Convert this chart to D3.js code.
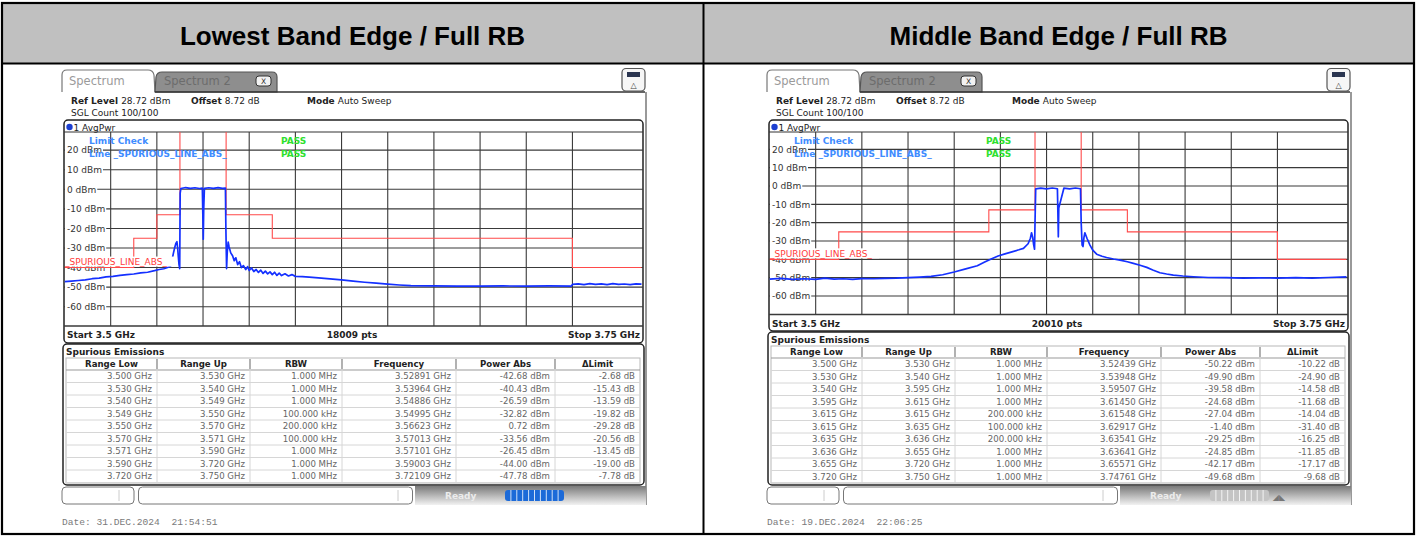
<!DOCTYPE html>
<html><head><meta charset="utf-8">
<script src="https://cdn.jsdelivr.net/npm/d3@7"></script>
<style>body{margin:0;background:#fff}svg{display:block}</style>
</head><body>
<svg id="c" width="1416" height="536"></svg>
<script>
// ---------------- DATA ----------------
const panelTitles = ["Lowest Band Edge / Full RB", "Middle Band Edge / Full RB"];
const startGHz = 3.5, stopGHz = 3.75;
const yTickValues = [20, 10, 0, -10, -20, -30, -40, -50, -60];
const yTickLabels = ["20 dBm", "10 dBm", "0 dBm", "-10 dBm", "-20 dBm", "-30 dBm", "-40 dBm", "-50 dBm", "-60 dBm"];
const sweepPoints = ["18009 pts", "20010 pts"];
const dateTexts = ["Date: 31.DEC.2024  21:54:51", "Date: 19.DEC.2024  22:06:25"];
const tableColumns = ["Range Low", "Range Up", "RBW", "Frequency", "Power Abs", "\u0394Limit"];

// limit line break frequencies (GHz) and levels (dBm)
const limitLowF = [3.500, 3.530, 3.540, 3.550, 3.570, 3.590, 3.720, 3.750];
const limitLowV = [-40, -25, -13, 30, -13, -25, -40];
const limitMidF = [3.500, 3.530, 3.595, 3.615, 3.635, 3.655, 3.720, 3.750];
const limitMidV = [-40, -25, -13, 30, -13, -25, -40];

// trace, lowest band edge (GHz, dBm)
const traceLowF = [3.500,3.503,3.506,3.509,3.512,3.515,3.518,3.521,3.524,3.527,3.530,3.533,3.536,3.539,3.541,3.543,3.545,3.546,3.5466,3.5472,3.5478,3.5483,3.5487,3.5490,3.5493,3.5496,3.5499,3.5501,3.5504,3.5525,3.5545,3.5565,3.5585,3.5597,3.5599,3.5601,3.5603,3.5606,3.5625,3.5645,3.5665,3.5685,3.5697,3.5699,3.5702,3.5705,3.5709,3.5713,3.5720,3.5728,3.5735,3.5742,3.5750,3.5758,3.5766,3.5775,3.5785,3.5793,3.5800,3.5810,3.5820,3.5830,3.5840,3.5850,3.5860,3.5870,3.5880,3.5890,3.5900,3.5910,3.5920,3.5930,3.5940,3.5955,3.5970,3.5985,3.600,3.603,3.606,3.610,3.615,3.620,3.625,3.630,3.635,3.640,3.645,3.650,3.660,3.670,3.680,3.690,3.700,3.710,3.7195,3.7200,3.7225,3.7250,3.7275,3.7300,3.7325,3.7350,3.7375,3.7400,3.7425,3.7450,3.7475,3.7500];
const traceLowV = [-47.2,-46.9,-46.6,-46.3,-45.7,-45.4,-44.8,-44.5,-44.0,-43.6,-43.3,-42.7,-42.4,-41.6,-41.0,-40.6,-39.8,-39.2,-36.0,-32.5,-29.5,-27.5,-26.8,-30.0,-34.5,-38.5,-40.5,-2.0,0.4,0.9,0.5,0.8,0.4,0.6,-12.0,-25.5,-10.0,0.5,0.8,0.5,0.9,0.5,0.6,-20.0,-40.5,-32.0,-27.0,-29.5,-32.5,-34.0,-36.5,-35.0,-38.5,-37.0,-40.0,-39.0,-41.0,-39.5,-41.5,-40.2,-42.0,-41.0,-42.5,-41.3,-43.0,-41.8,-43.2,-42.2,-43.6,-42.4,-44.0,-42.8,-44.1,-43.2,-44.3,-43.6,-44.5,-44.6,-44.9,-45.3,-45.8,-46.3,-46.9,-47.5,-48.0,-48.5,-48.9,-49.2,-49.4,-49.5,-49.5,-49.4,-49.5,-49.4,-49.5,-48.6,-48.3,-48.7,-48.2,-48.6,-48.3,-48.7,-48.2,-48.6,-48.4,-48.7,-48.3,-48.5];

// trace, middle band edge (GHz, dBm)
const traceMidF = [3.500,3.505,3.510,3.515,3.520,3.524,3.528,3.532,3.536,3.540,3.545,3.550,3.555,3.560,3.565,3.570,3.575,3.580,3.585,3.590,3.593,3.596,3.599,3.602,3.605,3.608,3.610,3.612,3.6130,3.6135,3.6140,3.6144,3.6148,3.6150,3.6153,3.6175,3.6200,3.6225,3.6247,3.6249,3.6251,3.6253,3.6275,3.6300,3.6325,3.6347,3.6350,3.6354,3.6358,3.6362,3.6366,3.6375,3.6388,3.6400,3.6417,3.6440,3.6460,3.6490,3.6518,3.6550,3.6576,3.6605,3.6634,3.6660,3.6691,3.6720,3.6749,3.6790,3.6836,3.6900,3.6980,3.7050,3.7120,3.7200,3.7280,3.7350,3.7420,3.7500];
const traceMidV = [-50.8,-50.4,-50.9,-50.6,-50.9,-50.3,-50.8,-50.6,-50.9,-50.5,-50.6,-50.4,-50.3,-50.0,-49.7,-49.3,-48.4,-46.9,-45.2,-43.5,-41.6,-39.8,-38.2,-37.0,-35.9,-34.8,-34.0,-31.5,-28.5,-25.5,-28.0,-32.0,-34.5,-20.0,-1.6,-1.2,-1.6,-1.1,-1.5,-14.0,-27.7,-12.0,-1.2,-1.6,-1.1,-1.5,-20.0,-32.2,-33.0,-28.0,-25.5,-28.5,-32.2,-35.0,-37.2,-38.3,-39.0,-39.8,-40.4,-41.3,-42.2,-43.2,-44.4,-45.8,-47.3,-48.0,-48.6,-49.1,-49.5,-49.9,-50.0,-50.2,-50.1,-50.2,-50.0,-50.2,-49.9,-49.6];

// spurious emission tables
const tableLowRows = [
  ["3.500 GHz", "3.530 GHz", "1.000 MHz", "3.52891 GHz", "-42.68 dBm", "-2.68 dB"],
  ["3.530 GHz", "3.540 GHz", "1.000 MHz", "3.53964 GHz", "-40.43 dBm", "-15.43 dB"],
  ["3.540 GHz", "3.549 GHz", "1.000 MHz", "3.54886 GHz", "-26.59 dBm", "-13.59 dB"],
  ["3.549 GHz", "3.550 GHz", "100.000 kHz", "3.54995 GHz", "-32.82 dBm", "-19.82 dB"],
  ["3.550 GHz", "3.570 GHz", "200.000 kHz", "3.56623 GHz", "0.72 dBm", "-29.28 dB"],
  ["3.570 GHz", "3.571 GHz", "100.000 kHz", "3.57013 GHz", "-33.56 dBm", "-20.56 dB"],
  ["3.571 GHz", "3.590 GHz", "1.000 MHz", "3.57101 GHz", "-26.45 dBm", "-13.45 dB"],
  ["3.590 GHz", "3.720 GHz", "1.000 MHz", "3.59003 GHz", "-44.00 dBm", "-19.00 dB"],
  ["3.720 GHz", "3.750 GHz", "1.000 MHz", "3.72109 GHz", "-47.78 dBm", "-7.78 dB"]
];
const tableMidRows = [
  ["3.500 GHz", "3.530 GHz", "1.000 MHz", "3.52439 GHz", "-50.22 dBm", "-10.22 dB"],
  ["3.530 GHz", "3.540 GHz", "1.000 MHz", "3.53948 GHz", "-49.90 dBm", "-24.90 dB"],
  ["3.540 GHz", "3.595 GHz", "1.000 MHz", "3.59507 GHz", "-39.58 dBm", "-14.58 dB"],
  ["3.595 GHz", "3.615 GHz", "1.000 MHz", "3.61450 GHz", "-24.68 dBm", "-11.68 dB"],
  ["3.615 GHz", "3.615 GHz", "200.000 kHz", "3.61548 GHz", "-27.04 dBm", "-14.04 dB"],
  ["3.615 GHz", "3.635 GHz", "100.000 kHz", "3.62917 GHz", "-1.40 dBm", "-31.40 dB"],
  ["3.635 GHz", "3.636 GHz", "200.000 kHz", "3.63541 GHz", "-29.25 dBm", "-16.25 dB"],
  ["3.636 GHz", "3.655 GHz", "1.000 MHz", "3.63641 GHz", "-24.85 dBm", "-11.85 dB"],
  ["3.655 GHz", "3.720 GHz", "1.000 MHz", "3.65571 GHz", "-42.17 dBm", "-17.17 dB"],
  ["3.720 GHz", "3.750 GHz", "1.000 MHz", "3.74761 GHz", "-49.68 dBm", "-9.68 dB"]
];

// ---------------- DRAWING ----------------
const svg = d3.select("#c");
const UI = "'DejaVu Sans', Verdana, sans-serif";

// outer table
svg.append("rect").attr("x", 2).attr("y", 3).attr("width", 1412).attr("height", 60).attr("fill", "#c0c0c0");
svg.append("rect").attr("x", 2).attr("y", 3).attr("width", 1412).attr("height", 531)
  .attr("fill", "none").attr("stroke", "#000").attr("stroke-width", 2.2);
svg.append("line").attr("x1", 2).attr("x2", 1414).attr("y1", 63.5).attr("y2", 63.5).attr("stroke", "#000").attr("stroke-width", 2);
svg.append("line").attr("x1", 703.5).attr("x2", 703.5).attr("y1", 3).attr("y2", 534).attr("stroke", "#000").attr("stroke-width", 2);
[352.5, 1058.5].forEach((cx, i) => {
  svg.append("text").attr("x", cx).attr("y", 45).attr("text-anchor", "middle")
    .attr("font-family", "'Liberation Sans', Arial, sans-serif").attr("font-weight", "bold")
    .attr("font-size", 26).attr("fill", "#000").text(panelTitles[i]);
});

const defs = svg.append("defs");
const gr = defs.append("linearGradient").attr("id", "stat").attr("x1", 0).attr("y1", 0).attr("x2", 0).attr("y2", 1);
gr.append("stop").attr("offset", "0%").attr("stop-color", "#7a7a7a");
gr.append("stop").attr("offset", "100%").attr("stop-color", "#f2f2f2");

const panels = [
  { ox: 60, traceF: traceLowF, traceV: traceLowV, limF: limitLowF, limV: limitLowV, rows: tableLowRows,
    pts: sweepPoints[0], date: dateTexts[0], active: true,
    gridTop: 132, gridBottom: 326, y0: 189.3, y60: 306.7, frameBottom: 343, tableTop: 344 },
  { ox: 765, traceF: traceMidF, traceV: traceMidV, limF: limitMidF, limV: limitMidV, rows: tableMidRows,
    pts: sweepPoints[1], date: dateTexts[1], active: false,
    gridTop: 132, gridBottom: 314.5, y0: 186, y60: 296, frameBottom: 331, tableTop: 332 }
];

function t(g, x, y, s, o = {}) {
  return g.append("text").attr("x", x).attr("y", y).attr("font-family", o.ff || UI)
    .attr("font-size", o.fs || 9).attr("font-weight", o.fw || "normal")
    .attr("fill", o.fill || "#222").attr("text-anchor", o.anchor || "start").text(s);
}

panels.forEach((p, pi) => {
  const g = svg.append("g");
  const ox = p.ox;
  const x = d3.scaleLinear().domain([startGHz, stopGHz]).range([ox + 4.5, ox + 581.7]);
  const y = d3.scaleLinear().domain([0, -60]).range([p.y0, p.y60]);

  // tabs
  g.append("path").attr("d", `M${ox+2},92 L${ox+2},75 Q${ox+2},70 ${ox+7},70 L${ox+88},70 Q${ox+93},70 ${ox+94},75 L${ox+95},92`)
    .attr("fill", "#fff").attr("stroke", "#777").attr("stroke-width", 1.2);
  g.append("path").attr("d", `M${ox+95},92 L${ox+96},77 Q${ox+97},72 ${ox+102},72 L${ox+212},72 Q${ox+217},72 ${ox+217},77 L${ox+217},92 Z`)
    .attr("fill", "#8e8e8e").attr("stroke", "#555").attr("stroke-width", 1.2);
  t(g, ox + 9, 85, "Spectrum", { fs: 11.5, fill: "#9a9a9a" });
  t(g, ox + 104, 85, "Spectrum 2", { fs: 11.5, fill: "#6c6c6c" });
  g.append("rect").attr("x", ox + 196).attr("y", 76).attr("width", 15).attr("height", 10).attr("rx", 3)
    .attr("fill", "#f2f2f2").attr("stroke", "#333");
  t(g, ox + 203.5, 84, "X", { fs: 7.5, anchor: "middle", fill: "#333" });
  g.append("line").attr("x1", ox + 95).attr("x2", ox + 585).attr("y1", 92).attr("y2", 92).attr("stroke", "#333").attr("stroke-width", 1.5);
  // icon
  g.append("rect").attr("x", ox + 562).attr("y", 68.5).attr("width", 23).attr("height", 22.5).attr("rx", 4)
    .attr("fill", "#f6f6f6").attr("stroke", "#555").attr("stroke-width", 1.2);
  g.append("rect").attr("x", ox + 567).attr("y", 72).attr("width", 13).attr("height", 5).attr("fill", "#2a3550");
  t(g, ox + 573.5, 88, "\u25B3", { fs: 8, anchor: "middle", fill: "#444" });

  // header text
  const hl = g.append("text").attr("x", ox + 11).attr("y", 104).attr("font-family", UI).attr("font-size", 9).attr("fill", "#222");
  hl.append("tspan").attr("font-weight", "bold").text("Ref Level ");
  hl.append("tspan").text("28.72 dBm");
  const ho = g.append("text").attr("x", ox + 131).attr("y", 104).attr("font-family", UI).attr("font-size", 9).attr("fill", "#222");
  ho.append("tspan").attr("font-weight", "bold").text("Offset ");
  ho.append("tspan").text("8.72 dB");
  const hm = g.append("text").attr("x", ox + 247).attr("y", 104).attr("font-family", UI).attr("font-size", 9).attr("fill", "#222");
  hm.append("tspan").attr("font-weight", "bold").text("Mode ");
  hm.append("tspan").text("Auto Sweep");
  t(g, ox + 11, 116, "SGL Count 100/100");

  // plot frame
  g.append("rect").attr("x", ox + 4).attr("y", 120).attr("width", 579).attr("height", p.frameBottom - 120).attr("rx", 4)
    .attr("fill", "#fff").attr("stroke", "#222").attr("stroke-width", 1.5);
  g.append("circle").attr("cx", ox + 9.5).attr("cy", 127).attr("r", 3.2).attr("fill", "#1c3fd0");
  t(g, ox + 13.5, 130.5, "1 AvgPwr");
  g.append("line").attr("x1", ox + 4).attr("x2", ox + 583).attr("y1", p.gridTop).attr("y2", p.gridTop).attr("stroke", "#333").attr("stroke-width", 1.2);

  // grid
  const grid = g.append("g").attr("stroke", "#3a3a3a").attr("stroke-width", 1.1);
  x.ticks(10).slice(1, -1).forEach(f => {
    grid.append("line").attr("x1", x(f)).attr("x2", x(f)).attr("y1", p.gridTop).attr("y2", p.gridBottom);
  });
  yTickValues.forEach(v => {
    grid.append("line").attr("x1", ox + 4).attr("x2", ox + 583).attr("y1", y(v)).attr("y2", y(v));
  });
  grid.append("line").attr("x1", ox + 4).attr("x2", ox + 583).attr("y1", p.gridBottom).attr("y2", p.gridBottom).attr("stroke-width", 1.4);

  // tick labels with white background
  yTickValues.forEach((v, i) => {
    const tx = t(g, ox + 7, y(v) + 3.3, yTickLabels[i], { fs: 9, fill: "#333" });
    const bb = tx.node().getBBox();
    g.insert("rect", () => tx.node()).attr("x", ox + 5).attr("y", bb.y + 1).attr("width", bb.x + bb.width - ox - 4)
      .attr("height", bb.height - 2).attr("fill", "#fff");
  });

  // clip
  const cid = "clip" + pi;
  defs.append("clipPath").attr("id", cid).append("rect").attr("x", ox + 4.5).attr("y", p.gridTop)
    .attr("width", 577.2).attr("height", p.gridBottom - p.gridTop);

  // limit line
  const lim = [];
  p.limV.forEach((v, i) => { lim.push([p.limF[i], v]); lim.push([p.limF[i + 1], v]); });
  const line = d3.line().x(d => x(d[0])).y(d => y(d[1]));
  g.append("path").attr("clip-path", `url(#${cid})`).attr("d", line(lim))
    .attr("fill", "none").attr("stroke", "#ff4a4a").attr("stroke-width", 1.1);

  // trace
  const tr = p.traceF.map((f, i) => [f, p.traceV[i]]);
  g.append("path").attr("clip-path", `url(#${cid})`).attr("d", line(tr))
    .attr("fill", "none").attr("stroke", "#1430ff").attr("stroke-width", 1.7).attr("stroke-linejoin", "round");

  // limit check texts
  t(g, ox + 29, 143.5, "Limit Check", { fw: "bold", fill: "#3f8cff" });
  t(g, ox + 29, 156.5, "Line _SPURIOUS_LINE_ABS_", { fw: "bold", fill: "#3f8cff" });
  t(g, ox + 221, 143.5, "PASS", { fw: "bold", fill: "#2ee02e" });
  t(g, ox + 221, 156.5, "PASS", { fw: "bold", fill: "#2ee02e" });

  // limit line label
  g.append("rect").attr("x", ox + 5).attr("y", y(-40) - 11).attr("width", 109).attr("height", 10).attr("fill", "#fff");
  t(g, ox + 5, y(-40) - 2.5, "_SPURIOUS_LINE_ABS_", { fill: "#ff3b3b" });

  // start/stop row
  const sy = p.gridBottom + 12;
  t(g, ox + 7, sy, "Start 3.5 GHz", { fw: "bold" });
  t(g, ox + 292, sy, p.pts, { fw: "bold", anchor: "middle" });
  t(g, ox + 580, sy, "Stop 3.75 GHz", { fw: "bold", anchor: "end" });

  // table panel
  const tt = p.tableTop;
  g.append("rect").attr("x", ox + 3).attr("y", tt).attr("width", 581).attr("height", 485 - tt).attr("rx", 4)
    .attr("fill", "#fff").attr("stroke", "#222").attr("stroke-width", 1.5);
  t(g, ox + 6, tt + 11, "Spurious Emissions", { fw: "bold", fill: "#222" });
  const colB = [6, 97, 190, 282, 396, 495, 580].map(c => ox + c);
  const hTop = tt + 14, rowH = 12.5, hH = 12;
  g.append("rect").attr("x", colB[0]).attr("y", hTop).attr("width", colB[6] - colB[0]).attr("height", 483 - hTop)
    .attr("fill", "#fff").attr("stroke", "#b8b8b8");
  g.append("line").attr("x1", colB[0]).attr("x2", colB[6]).attr("y1", hTop + hH).attr("y2", hTop + hH).attr("stroke", "#999");
  tableColumns.forEach((c, ci) => {
    t(g, (colB[ci] + colB[ci + 1]) / 2, hTop + 9, c, { fw: "bold", anchor: "middle", fs: 8.6, fill: "#222" });
    if (ci > 0) g.append("line").attr("x1", colB[ci]).attr("x2", colB[ci]).attr("y1", hTop + 1).attr("y2", hTop + hH - 1)
      .attr("stroke", "#888").attr("stroke-width", 1.3);
  });
  p.rows.forEach((r, ri) => {
    const ry = hTop + hH + ri * rowH;
    g.append("line").attr("x1", colB[0]).attr("x2", colB[6]).attr("y1", ry + rowH).attr("y2", ry + rowH).attr("stroke", "#d6d6d6");
    r.forEach((s, ci) => {
      t(g, colB[ci + 1] - 5, ry + 9.3, s, { anchor: "end", fs: 8.6, fill: "#666" });
    });
  });
  for (let ci = 1; ci < 6; ci++) {
    g.append("line").attr("x1", colB[ci]).attr("x2", colB[ci]).attr("y1", hTop + hH).attr("y2", 483).attr("stroke", "#d6d6d6");
  }

  // right edge line
  g.append("line").attr("x1", ox + 586).attr("x2", ox + 586).attr("y1", 92).attr("y2", 505).attr("stroke", "#777").attr("stroke-width", 1.5);

  // status bar
  g.append("rect").attr("x", ox + 2).attr("y", 487).attr("width", 72).attr("height", 17).attr("rx", 4)
    .attr("fill", "#fff").attr("stroke", "#777");
  g.append("line").attr("x1", ox + 59).attr("x2", ox + 59).attr("y1", 490).attr("y2", 501).attr("stroke", "#ccc");
  g.append("rect").attr("x", ox + 78.5).attr("y", 487).attr("width", 274).attr("height", 17).attr("rx", 4)
    .attr("fill", "#fff").attr("stroke", "#777");
  g.append("line").attr("x1", ox + 338).attr("x2", ox + 338).attr("y1", 490).attr("y2", 501).attr("stroke", "#ccc");
  g.append("rect").attr("x", ox + 355).attr("y", 486).attr("width", 231).attr("height", 19).attr("fill", "url(#stat)");
  t(g, ox + 385, 499, "Ready", { fw: "bold", fill: "#ececec", fs: 9 });
  const barCol = p.active ? "#1c6ad8" : "#c4c4c4";
  g.append("rect").attr("x", ox + 445).attr("y", 490).attr("width", 59).attr("height", 11).attr("rx", 3).attr("fill", barCol);
  for (let k = 1; k < 10; k++) {
    g.append("line").attr("x1", ox + 445 + k * 5.9).attr("x2", ox + 445 + k * 5.9).attr("y1", 490).attr("y2", 501)
      .attr("stroke", "#fff").attr("stroke-width", 0.8);
  }
  if (!p.active) t(g, ox + 514, 500, "\u25E2\u25E3", { fs: 8, fill: "#777", anchor: "middle" });

  // date
  t(g, ox + 2, 525, p.date, { ff: "'Liberation Mono', 'Courier New', monospace", fs: 9.6, fill: "#7a7a7a" })
    .style("white-space", "pre");
});
</script>
</body></html>
